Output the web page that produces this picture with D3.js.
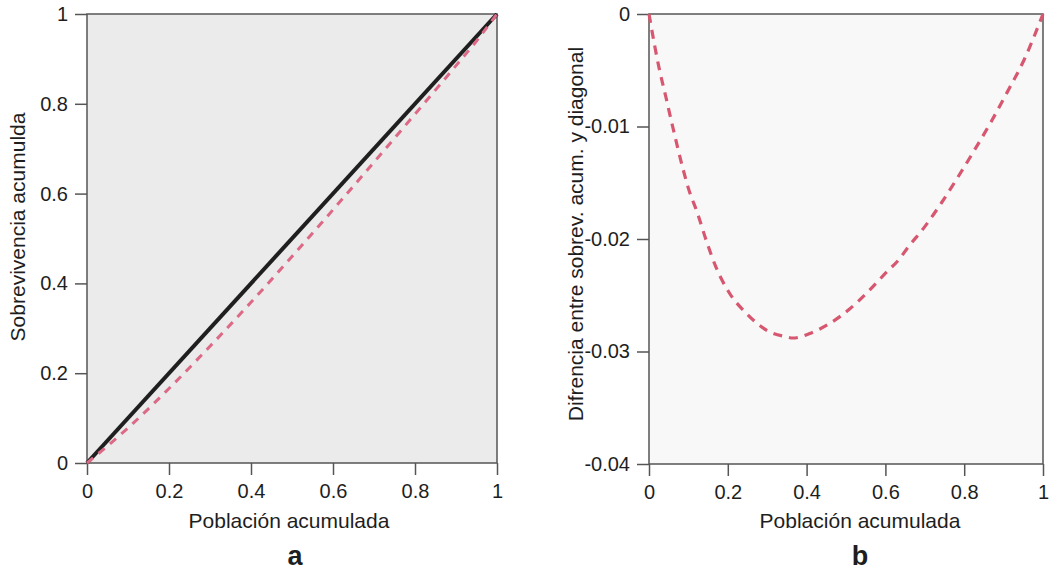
<!DOCTYPE html>
<html>
<head>
<meta charset="utf-8">
<script src="https://cdn.jsdelivr.net/npm/d3@7"></script>
<style>
  html, body { margin: 0; padding: 0; background: #ffffff; }
  svg { display: block; }
  text { font-family: "Liberation Sans", Arial, Helvetica, sans-serif; fill: #1e1e1e; }
</style>
</head>
<body>
<svg id="chart" width="1059" height="570"></svg>
<script>
// Panel a: cumulative population vs cumulative survival
const diagPop  = [0, 1];
const diagSurv = [0, 1];
const survPop  = [0, 0.05, 0.1, 0.2, 0.3, 0.4, 0.5, 0.6, 0.7, 0.8, 0.9, 0.95, 1];
const survCum  = [0, 0.038, 0.078, 0.166, 0.26, 0.358, 0.46, 0.564, 0.67, 0.777, 0.885, 0.94, 1];

// Panel b: difference between cumulative survival and the diagonal
const diffPop = [0, 0.004, 0.025, 0.043, 0.06, 0.085, 0.1, 0.123, 0.145, 0.17, 0.204, 0.247,
                 0.298, 0.349, 0.365, 0.408, 0.459, 0.51, 0.561, 0.604, 0.635, 0.656, 0.700,
                 0.742, 0.784, 0.826, 0.868, 0.910, 0.953, 1];
const diffVal = [0, -0.0008, -0.0047, -0.0074, -0.0100, -0.0136, -0.0155, -0.0177, -0.0201,
                 -0.0225, -0.0248, -0.0266, -0.0281, -0.0287, -0.0288, -0.0284, -0.0275,
                 -0.0262, -0.0245, -0.0229, -0.0218, -0.0208, -0.0189, -0.0168, -0.0145,
                 -0.0121, -0.0096, -0.0069, -0.0040, 0];

// Tick values and labels
const xTicks       = [0, 0.2, 0.4, 0.6, 0.8, 1];
const xTickLabels  = ["0", "0.2", "0.4", "0.6", "0.8", "1"];
const aYTicks      = [0, 0.2, 0.4, 0.6, 0.8, 1];
const aYTickLabels = ["0", "0.2", "0.4", "0.6", "0.8", "1"];
const bYTicks      = [0, -0.01, -0.02, -0.03, -0.04];
const bYTickLabels = ["0", "-0.01", "-0.02", "-0.03", "-0.04"];

const svg = d3.select("#chart");
const frameColor = "#555555";
const redDash = "#d6576f";

function panel(opt) {
  const g = svg.append("g");
  const x = d3.scaleLinear().domain([0, 1]).range([opt.left, opt.right]);
  const y = d3.scaleLinear().domain(opt.yDomain).range([opt.bottom, opt.top]);

  // plot area
  g.append("rect")
    .attr("x", opt.left).attr("y", opt.top)
    .attr("width", opt.right - opt.left).attr("height", opt.bottom - opt.top)
    .attr("fill", opt.fill)
    .attr("stroke", frameColor).attr("stroke-width", 1.5);

  // axes
  const xLab = d3.scaleOrdinal().domain(xTicks).range(xTickLabels);
  const yLab = d3.scaleOrdinal().domain(opt.yTicks).range(opt.yTickLabels);

  const xa = g.append("g")
    .attr("transform", `translate(0,${opt.bottom})`)
    .call(d3.axisBottom(x).tickValues(xTicks).tickSize(12).tickSizeOuter(0)
      .tickPadding(9).tickFormat(d => xLab(d)));
  const ya = g.append("g")
    .attr("transform", `translate(${opt.left},0)`)
    .call(d3.axisLeft(y).tickValues(opt.yTicks).tickSize(12).tickSizeOuter(0)
      .tickPadding(7).tickFormat(d => yLab(d)));
  [xa, ya].forEach(a => {
    a.select(".domain").remove();
    a.selectAll(".tick line").attr("stroke", frameColor).attr("stroke-width", 1.5);
    a.selectAll(".tick text").style("font-size", "20px").attr("fill", "#1e1e1e")
      .style("font-family", '"Liberation Sans", Arial, sans-serif');
  });

  // series
  opt.series.forEach(s => {
    const pts = s.xs.map((v, i) => [v, s.ys[i]]);
    g.append("path")
      .datum(pts)
      .attr("fill", "none")
      .attr("stroke", s.color)
      .attr("stroke-width", s.width)
      .attr("stroke-dasharray", s.dash || null)
      .attr("d", d3.line().x(d => x(d[0])).y(d => y(d[1])).curve(d3.curveMonotoneX));
  });

  // titles
  g.append("text")
    .attr("x", opt.xTitleX).attr("y", 528)
    .attr("text-anchor", "middle")
    .style("font-size", "21px")
    .text("Población acumulada");
  g.append("text")
    .attr("transform", `translate(${opt.yTitleX},${opt.yTitleY}) rotate(-90)`)
    .attr("text-anchor", "middle")
    .style("font-size", "21px")
    .text(opt.yTitle);
  g.append("text")
    .attr("x", opt.letterX).attr("y", 565)
    .attr("text-anchor", "middle")
    .style("font-size", "27px").style("font-weight", "bold")
    .text(opt.letter);
}

panel({
  left: 87, right: 497, top: 14, bottom: 463,
  yDomain: [0, 1], yTicks: aYTicks, yTickLabels: aYTickLabels,
  fill: "#ebebeb",
  series: [
    { xs: diagPop, ys: diagSurv, color: "#1f1f1f", width: 4 },
    { xs: survPop, ys: survCum, color: "#dc6a86", width: 3, dash: "8,7" }
  ],
  xTitleX: 289, yTitleX: 25, yTitleY: 227,
  yTitle: "Sobrevivencia acumulda",
  letterX: 295, letter: "a"
});

panel({
  left: 649, right: 1043, top: 14, bottom: 464,
  yDomain: [-0.04, 0], yTicks: bYTicks, yTickLabels: bYTickLabels,
  fill: "#f8f8f8",
  series: [
    { xs: diffPop, ys: diffVal, color: redDash, width: 3.2, dash: "9,7" }
  ],
  xTitleX: 860, yTitleX: 583, yTitleY: 234,
  yTitle: "Difrencia entre sobrev. acum. y diagonal",
  letterX: 860, letter: "b"
});
</script>
</body>
</html>
